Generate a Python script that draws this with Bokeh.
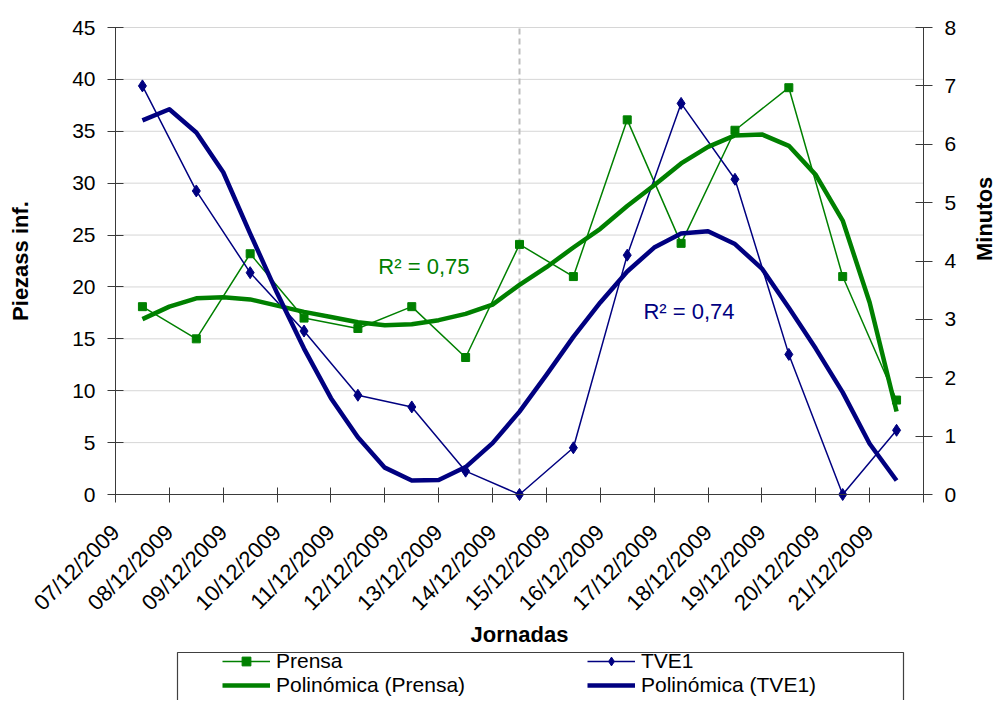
import math
from bokeh.plotting import figure
from bokeh.models import (Range1d, LinearAxis, FixedTicker, Legend, LegendItem,
                          Label, BoxAnnotation)
from bokeh.embed import file_html
from bokeh.resources import INLINE

# ---------------- data ----------------
dates = ["07/12/2009", "08/12/2009", "09/12/2009", "10/12/2009", "11/12/2009",
         "12/12/2009", "13/12/2009", "14/12/2009", "15/12/2009", "16/12/2009",
         "17/12/2009", "18/12/2009", "19/12/2009", "20/12/2009", "21/12/2009"]
prensa = [18.1, 15.0, 23.2, 17.0, 16.0, 18.1, 13.2, 24.1, 21.0, 36.1, 24.2, 35.1, 39.2, 21.0, 9.1]
tve1 = [7.0, 5.2, 3.8, 2.8, 1.7, 1.5, 0.4, 0.0, 0.8, 4.1, 6.7, 5.4, 2.4, 0.0, 1.1]

# polynomial trendlines, every half day from the first point
trend_step = 0.5
trend_prensa = [16.9, 18.1, 18.9, 19.0, 18.8, 18.2, 17.6, 17.1, 16.6, 16.3, 16.4, 16.8,
                17.4, 18.3, 20.2, 21.9, 23.8, 25.6, 27.8, 29.8, 31.9, 33.5, 34.6, 34.7,
                33.6, 30.8, 26.4, 18.5, 8.0]
trend_tve1 = [6.41, 6.60, 6.20, 5.52, 4.47, 3.45, 2.50, 1.65, 0.98, 0.46, 0.24, 0.25,
              0.47, 0.88, 1.42, 2.05, 2.70, 3.29, 3.82, 4.23, 4.47, 4.51, 4.29, 3.87,
              3.20, 2.50, 1.75, 0.87, 0.24]

left_ticks = [0, 5, 10, 15, 20, 25, 30, 35, 40, 45]
right_ticks = [0, 1, 2, 3, 4, 5, 6, 7, 8]
marked_date = "14/12/2009"
r2_prensa = "R² = 0,75"
r2_tve1 = "R² = 0,74"

GREEN = "#008000"
NAVY = "#000080"
FONT = "Liberation Sans"
AXIS_COLOR = "#3a3a3a"

# ---------------- layout geometry (pixels) ----------------
W, H = 1000, 700
PLOT_LEFT, PLOT_RIGHT, PLOT_TOP, PLOT_BOTTOM = 115, 923, 27, 494

n = len(dates)
L_MAX, R_MAX = left_ticks[-1], right_ticks[-1]
px_x = (PLOT_RIGHT - PLOT_LEFT) / n
px_l = (PLOT_BOTTOM - PLOT_TOP) / L_MAX
px_r = (PLOT_BOTTOM - PLOT_TOP) / R_MAX
x_rng = Range1d(-PLOT_LEFT / px_x, n + (W - PLOT_RIGHT) / px_x)
y_rng = Range1d(-(H - PLOT_BOTTOM) / px_l, L_MAX + PLOT_TOP / px_l)
r_rng = Range1d(-(H - PLOT_BOTTOM) / px_r, R_MAX + PLOT_TOP / px_r)

xpos = [i + 0.5 for i in range(n)]
txpos = [0.5 + k * trend_step for k in range(len(trend_prensa))]

p = figure(width=W, height=H, x_range=x_rng, y_range=y_rng,
           output_backend="svg", toolbar_location=None,
           min_border_left=0, min_border_right=0, min_border_top=0,
           min_border_bottom=0)
p.outline_line_color = None
p.background_fill_color = "white"
p.border_fill_color = "white"
p.extra_y_ranges = {"min": r_rng}
p.xgrid.visible = False
p.ygrid.visible = False

# gridlines (at the left axis ticks, across the plot area)
p.segment(x0=[0] * len(left_ticks), y0=left_ticks, x1=[n] * len(left_ticks),
          y1=left_ticks, line_color="#d6d6d6", line_width=1)

# x axis
xa = p.xaxis[0]
xa.fixed_location = 0
xa.bounds = (0, n)
xa.ticker = FixedTicker(ticks=list(range(n + 1)))
xa.major_label_overrides = {i: (dates[i] if i < n else "") for i in range(n + 1)}
xa.major_label_orientation = math.pi / 4
xa.major_label_text_font = FONT
xa.major_label_text_font_size = "22px"
xa.major_label_text_color = "black"
xa.major_label_standoff = 26
xa.major_tick_in = 7
xa.major_tick_out = 8
xa.minor_tick_line_color = None
xa.axis_line_color = AXIS_COLOR
xa.major_tick_line_color = AXIS_COLOR
xa.axis_label = "Jornadas"
xa.axis_label_text_font = FONT
xa.axis_label_text_font_size = "22px"
xa.axis_label_text_font_style = "bold"
xa.axis_label_text_color = "black"
xa.axis_label_standoff = -5

# left axis
ya = p.yaxis[0]
ya.fixed_location = 0
ya.bounds = (0, L_MAX)
ya.ticker = FixedTicker(ticks=left_ticks)
ya.major_label_text_font = FONT
ya.major_label_text_font_size = "21px"
ya.major_label_text_color = "black"
ya.major_label_standoff = 12
ya.major_tick_in = 8
ya.major_tick_out = 8
ya.minor_tick_line_color = None
ya.axis_line_color = AXIS_COLOR
ya.major_tick_line_color = AXIS_COLOR
ya.axis_label = "Piezass inf."
ya.axis_label_text_font = FONT
ya.axis_label_text_font_size = "22px"
ya.axis_label_text_font_style = "bold"
ya.axis_label_text_color = "black"
ya.axis_label_standoff = 36

# right axis
ra = LinearAxis(y_range_name="min", ticker=FixedTicker(ticks=right_ticks))
ra.fixed_location = n
ra.bounds = (0, R_MAX)
ra.major_label_text_font = FONT
ra.major_label_text_font_size = "21px"
ra.major_label_text_color = "black"
ra.major_label_standoff = 12
ra.major_tick_in = 8
ra.major_tick_out = 9
ra.minor_tick_line_color = None
ra.axis_line_color = AXIS_COLOR
ra.major_tick_line_color = AXIS_COLOR
ra.axis_label = "Minutos"
ra.axis_label_text_font = FONT
ra.axis_label_text_font_size = "22px"
ra.axis_label_text_font_style = "bold"
ra.axis_label_text_color = "black"
ra.axis_label_standoff = 25
ra.axis_label_orientation = math.pi / 2
p.add_layout(ra, "right")

# dashed marker line (from 0 to the top of the plot)
mx = xpos[dates.index(marked_date)]
p.segment(x0=[mx], y0=[0], x1=[mx], y1=[L_MAX], line_color="#bdbdbd",
          line_dash="6 4", line_width=2)

# series
l_p = p.line(xpos, prensa, line_color=GREEN, line_width=1.5)
s_p = p.scatter(xpos, prensa, marker="square", size=8, fill_color=GREEN, line_color=GREEN)
l_t = p.line(xpos, tve1, line_color=NAVY, line_width=1.5, y_range_name="min")
s_t = p.scatter(xpos, tve1, marker="diamond", size=12, fill_color=NAVY, line_color=NAVY,
                y_range_name="min")
tr_p = p.line(txpos, trend_prensa, line_color=GREEN, line_width=4.5, line_join="round")
tr_t = p.line(txpos, trend_tve1, line_color=NAVY, line_width=4.5, line_join="round",
              y_range_name="min")

# R² labels
p.add_layout(Label(x=4.88, y=22.0, text=r2_prensa, text_color=GREEN, text_font=FONT,
                   text_font_size="22px", text_baseline="alphabetic"))
p.add_layout(Label(x=9.80, y=17.6, text=r2_tve1, text_color=NAVY, text_font=FONT,
                   text_font_size="22px", text_baseline="alphabetic"))

# legend frame (its bottom edge falls below the page, as in the original)
p.add_layout(BoxAnnotation(left=177, right=903, top=48, bottom=-12,
                           left_units="screen", right_units="screen",
                           top_units="screen", bottom_units="screen",
                           fill_alpha=0, fill_color=None,
                           line_color="#404040", line_width=1.2, line_alpha=1))

def make_legend(items, loc):
    return Legend(items=items, location=loc, orientation="vertical",
                  padding=0, margin=0, spacing=0, glyph_width=48, glyph_height=22,
                  label_height=22, label_standoff=6, label_text_font=FONT,
                  label_text_font_size="21px", label_text_color="black",
                  border_line_color=None, background_fill_alpha=0)

leg1 = make_legend([LegendItem(label="Prensa", renderers=[l_p, s_p]),
                    LegendItem(label="Polinómica (Prensa)", renderers=[tr_p])], (222, 3))
leg2 = make_legend([LegendItem(label="TVE1", renderers=[l_t, s_t]),
                    LegendItem(label="Polinómica (TVE1)", renderers=[tr_t])], (587, 3))
p.add_layout(leg1, "center")
p.add_layout(leg2, "center")

open("out.html", "w").write(file_html(p, INLINE))
